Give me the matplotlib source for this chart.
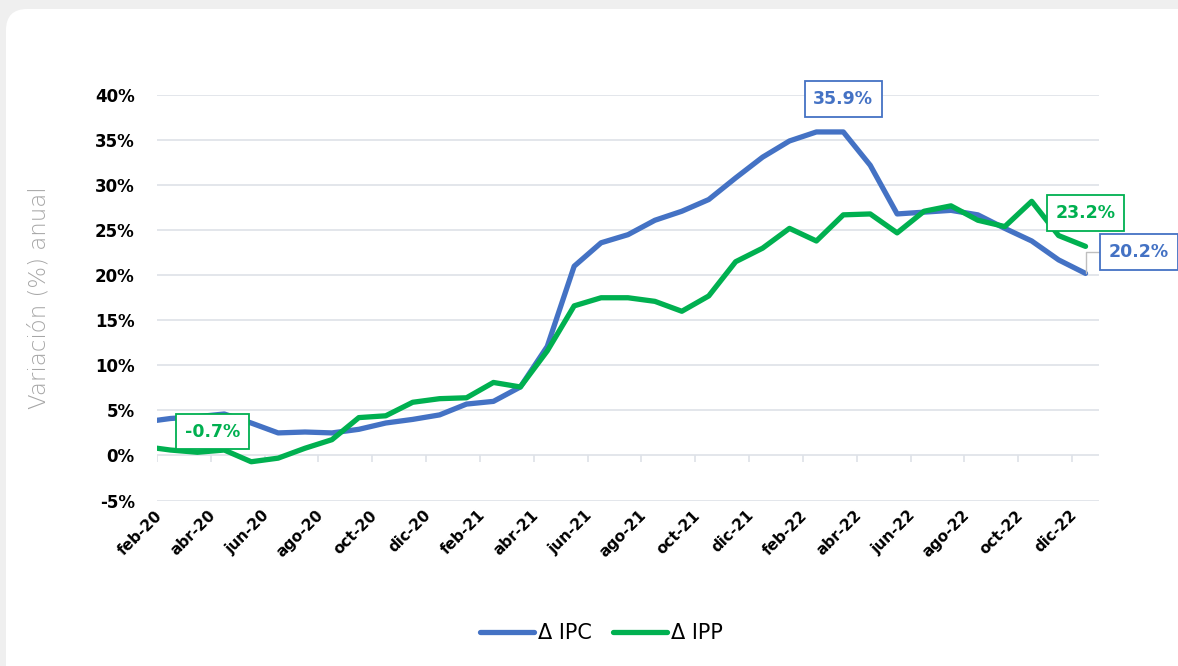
import matplotlib
matplotlib.use("Agg")
import matplotlib.pyplot as plt
import matplotlib.transforms as mtransforms
from matplotlib.patches import FancyBboxPatch
from matplotlib.ticker import FuncFormatter, MultipleLocator

# Monthly series, ene-20 .. dic-22 (annual % change)
months = ["ene", "feb", "mar", "abr", "may", "jun",
          "jul", "ago", "sep", "oct", "nov", "dic"]
years = ["20", "21", "22"]
periods = [f"{m}-{y}" for y in years for m in months]

ipc = [3.7, 4.1, 4.3, 4.6, 3.6, 2.5, 2.6, 2.5, 2.9, 3.6, 4.0, 4.5,
       5.7, 6.0, 7.6, 12.1, 21.0, 23.6, 24.5, 26.1, 27.1, 28.4, 30.8, 33.1,
       34.9, 35.9, 35.9, 32.2, 26.8, 27.0, 27.2, 26.7, 25.2, 23.8, 21.7, 20.2]
ipp = [1.0, 0.6, 0.35, 0.6, -0.7, -0.3, 0.8, 1.75, 4.2, 4.4, 5.9, 6.3,
       6.4, 8.1, 7.6, 11.6, 16.6, 17.5, 17.5, 17.1, 16.0, 17.7, 21.5, 23.0,
       25.2, 23.8, 26.7, 26.8, 24.7, 27.1, 27.7, 26.1, 25.4, 28.2, 24.4, 23.2]

series_names = ["\u0394 IPC", "\u0394 IPP"]
colors = ["#4472C4", "#00B050"]

# Highlighted values: (series index, period)
highlights = [(1, "may-20"), (0, "mar-22"), (1, "dic-22"), (0, "dic-22")]

W, H, DPI = 1178, 666, 100
fig = plt.figure(figsize=(W / DPI, H / DPI), dpi=DPI, facecolor="#EFEFEF")

# white rounded card
card = FancyBboxPatch((6 / W, -0.05), 1.2, 1.05 - 9 / H,
                      boxstyle="round,pad=0,rounding_size=0.018",
                      transform=fig.transFigure, facecolor="white",
                      edgecolor="none", zorder=-10, mutation_aspect=W / H)
fig.patches.append(card)

left, right = 157 / W, 1099 / W
bottom, top = (H - 500.5) / H, (H - 95) / H
ax = fig.add_axes([left, bottom, right - left, top - bottom])
ax.set_facecolor("none")
ax.set_zorder(2)

x = list(range(len(periods)))
ax.set_xlim(0.5, len(periods) - 0.5)
ax.set_ylim(-5, 40)

ax.yaxis.set_major_locator(MultipleLocator(5))
ax.yaxis.set_major_formatter(FuncFormatter(lambda v, p: f"{v:.0f}%"))
ax.grid(axis="y", color="#DEE2E8", lw=1.2)
ax.set_axisbelow(True)
for s in ax.spines.values():
    s.set_visible(False)
ax.tick_params(axis="y", length=0, pad=16, labelsize=12)
for lab in ax.get_yticklabels():
    lab.set_fontweight("bold")

# category tick marks on the zero line, between every second month
tick_pos = [i + 0.5 for i in range(0, len(periods) - 1, 2)]
ax.vlines(tick_pos, -0.7, 0, color="#DEE2E8", lw=1.2, zorder=1)

label_idx = list(range(1, len(periods), 2))
ax.set_xticks(label_idx)
ax.set_xticklabels([periods[i] for i in label_idx], rotation=45,
                   ha="right", va="center", rotation_mode="anchor",
                   fontweight="bold", fontsize=11)
ax.tick_params(axis="x", length=0, pad=9)
offset = mtransforms.ScaledTranslation(-0.11, 0, fig.dpi_scale_trans)
for lab in ax.get_xticklabels():
    lab.set_transform(lab.get_transform() + offset)

data = [ipc, ipp]
for vals, name, c in zip(data, series_names, colors):
    ax.plot(x, vals, color=c, lw=3.8, label=name,
            solid_joinstyle="round", solid_capstyle="round", zorder=3)

ax.set_ylabel("Variaci\u00f3n (%) anual", color="#A6A6A6", fontsize=16.5,
              fontweight="light")
ax.yaxis.set_label_coords(-(157 - 51) / (1099 - 157), 0.5)

# data labels
label_pos = [(2.56, 2.64), (26.0, 39.55), (35.0, 26.9), (36.99, 22.56)]
for (si, per), (tx, ty) in zip(highlights, label_pos):
    i = periods.index(per)
    v = data[si][i]
    c = colors[si]
    arrow = None
    if si == 0 and per == "dic-22":
        arrow = dict(arrowstyle="-", color="#BFBFBF", lw=1,
                     connectionstyle="angle,angleA=0,angleB=90,rad=0",
                     shrinkA=0, shrinkB=0)
    ax.annotate(f"{v:.1f}%", xy=(i, v), xytext=(tx, ty), textcoords="data",
                ha="center", va="center", color=c, fontsize=12.5,
                fontweight="bold", annotation_clip=False, zorder=5,
                bbox=dict(boxstyle="square,pad=0.5", fc="white", ec=c, lw=1.3),
                arrowprops=arrow)

fig.legend(loc="center", bbox_to_anchor=(601.5 / W, (H - 633) / H), ncol=2,
           frameon=False, fontsize=15, handlelength=2.6, handletextpad=0.2,
           columnspacing=1.0)
leg = fig.legends[0]
for ln in leg.get_lines():
    ln.set_solid_capstyle("round")

fig.savefig("out.png", dpi=DPI, facecolor=fig.get_facecolor())
